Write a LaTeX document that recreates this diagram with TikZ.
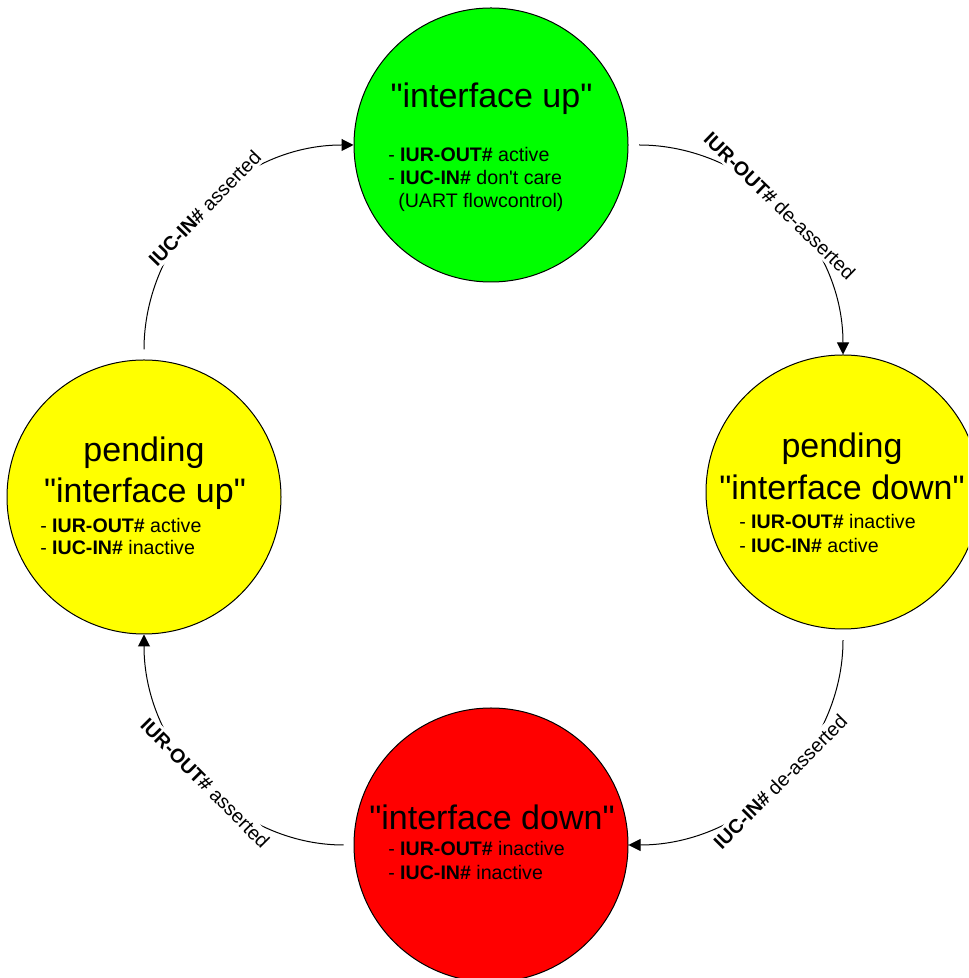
\documentclass[tikz,border=0pt]{standalone}
\usepackage{fontspec}
\setmainfont{Liberation Sans}
\usetikzlibrary{arrows.meta}
\definecolor{sGreen}{RGB}{0,255,0}
\definecolor{sYellow}{RGB}{255,255,0}
\definecolor{sRed}{RGB}{255,0,0}
\newcommand{\dq}{\textquotedbl}
\begin{document}
\begin{tikzpicture}[x=0.75pt,y=0.75pt,
  stbox/.style={circle,draw=black,line width=0.75pt,minimum size=205.5pt,inner sep=0pt},
  stitle/.style={font=\fontsize{25.5}{30}\selectfont,anchor=base,inner sep=0pt},
  sline/.style={font=\fontsize{14.7}{17.6}\selectfont,anchor=base west,inner sep=0pt},
  tarrow/.style={line width=0.75pt,-{Triangle[length=9pt,width=9pt]}},
  elabel/.style={font=\fontsize{14.7}{17.6}\selectfont,sloped,fill=white,inner sep=2pt,pos=0.5}
]
\useasboundingbox (0,0) rectangle (968,978);
\clip (0,0) rectangle (968,978);

% states
\node[stbox,fill=sGreen]  (G) at (491,833) {};
\node[stbox,fill=sYellow] (R) at (843,486) {};
\node[stbox,fill=sRed]    (B) at (491,133) {};
\node[stbox,fill=sYellow] (L) at (144,481) {};

% texts of "interface up"
\node[stitle] (Gt) at (491.5,870) {\dq interface up\dq};
\node[sline] (G1) at (388,816) {- \textbf{IUR-OUT\#} active};
\node[sline] (G2) at (388,793) {- \textbf{IUC-IN\#} don\textquotesingle t care};
\node[sline] (G3) at (398,770) {(UART flowcontrol)};

% texts of pending "interface down"
\node[stitle] (Rt1) at (842,520) {pending};
\node[stitle] (Rt2) at (842,478) {\dq interface down\dq};
\node[sline] (R1) at (739,449) {- \textbf{IUR-OUT\#} inactive};
\node[sline] (R2) at (739,425) {- \textbf{IUC-IN\#} active};

% texts of pending "interface up"
\node[stitle] (Lt1) at (144,516) {pending};
\node[stitle] (Lt2) at (145,475) {\dq interface up\dq};
\node[sline] (L1) at (40,445) {- \textbf{IUR-OUT\#} active};
\node[sline] (L2) at (40,423) {- \textbf{IUC-IN\#} inactive};

% texts of "interface down"
\node[stitle] (Bt) at (492,148) {\dq interface down\dq};
\node[sline] (B1) at (388,122) {- \textbf{IUR-OUT\#} inactive};
\node[sline] (B2) at (388,98) {- \textbf{IUC-IN\#} inactive};

% transitions
\draw[tarrow,shorten <=7.5pt] (L.north) to[out=90,in=180]
  node[elabel] {\textbf{IUC-IN\#} asserted} (G.west);
\draw[tarrow,shorten <=8pt] (G.east) to[out=0,in=90]
  node[elabel] {\textbf{IUR-OUT\#} de-asserted} (R.north);
\draw[tarrow,shorten <=8pt] (R.south) to[out=-90,in=0]
  node[elabel] {\textbf{IUC-IN\#} de-asserted} (B.east);
\draw[tarrow,shorten <=7.5pt] (B.west) to[out=180,in=-90]
  node[elabel] {\textbf{IUR-OUT\#} asserted} (L.south);
\end{tikzpicture}
\end{document}
